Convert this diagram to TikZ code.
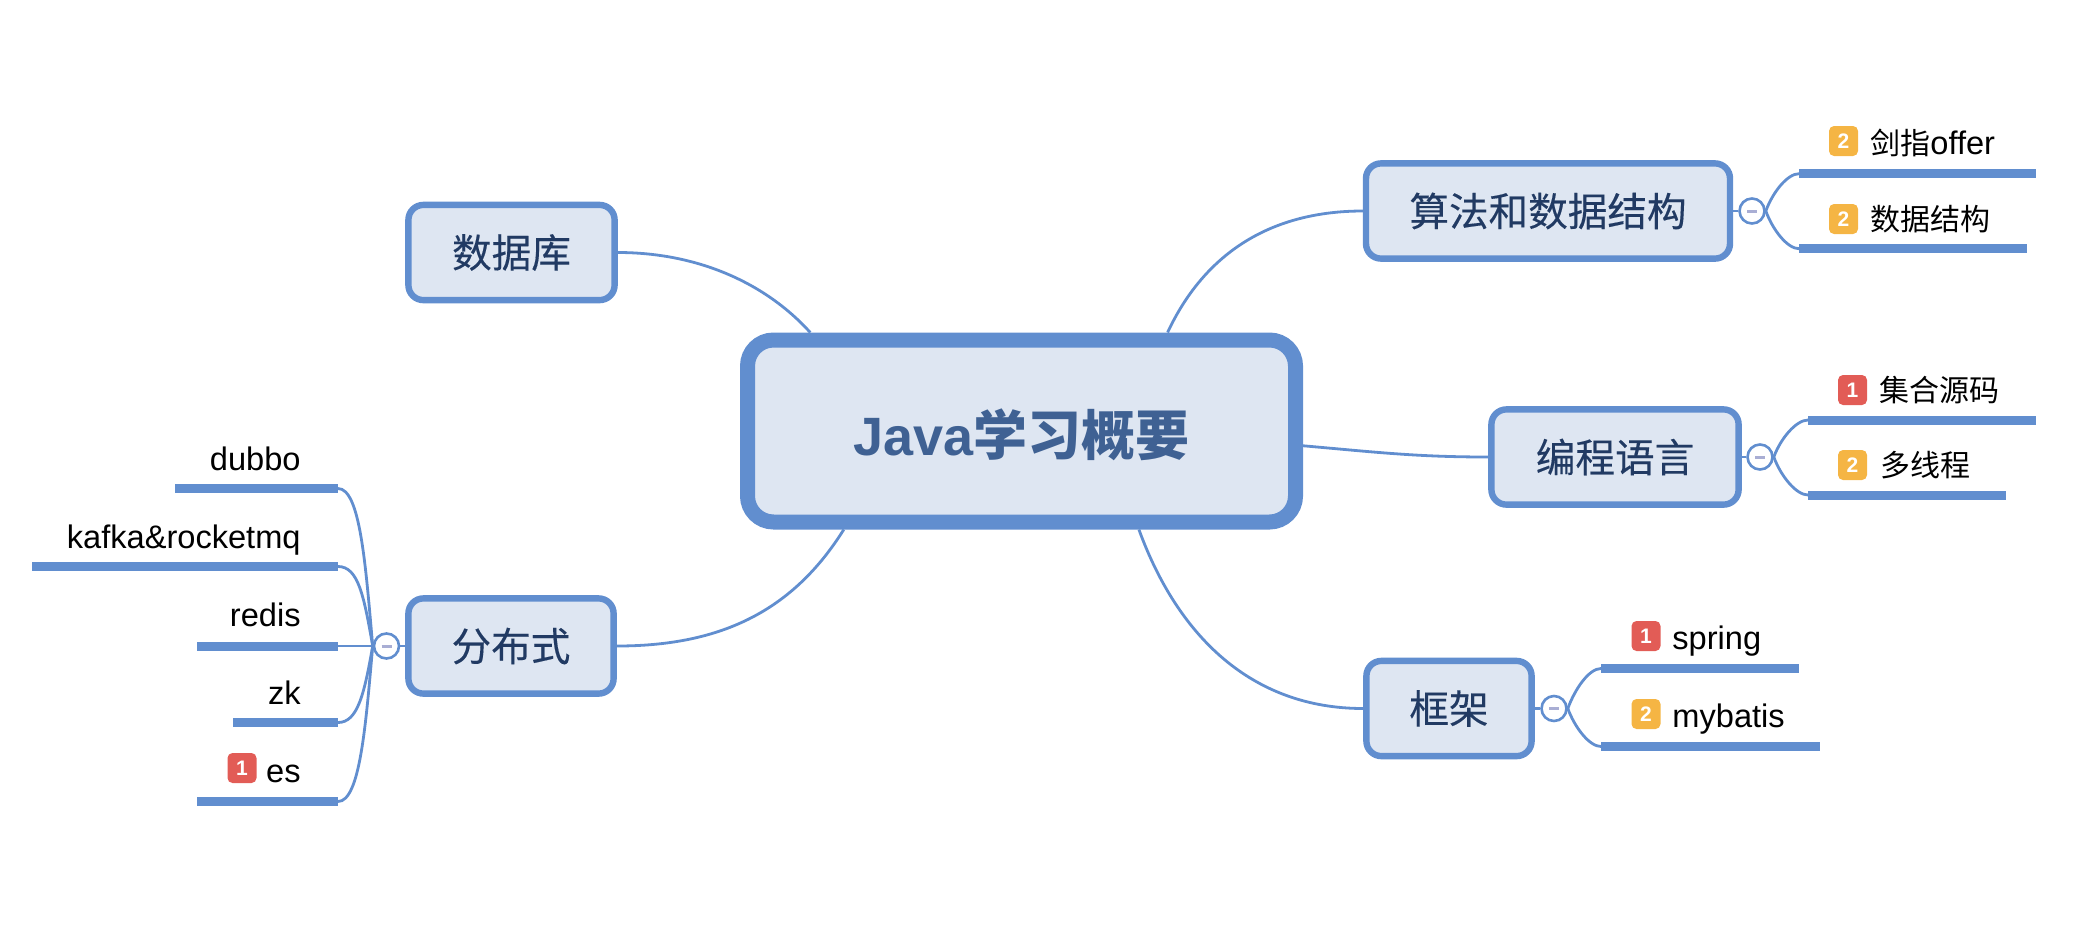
\documentclass[tikz,border=0pt]{standalone}
\usepackage{fontspec}
\setmainfont{Liberation Sans}
\newfontfamily\cjk{Noto Sans CJK SC}
\newfontfamily\cjktopic[FakeBold=0.25]{Noto Sans CJK SC}
\newfontfamily\cjkleaf[Scale=0.92]{Noto Sans CJK SC}
\definecolor{kBlue}{HTML}{618ECF}
\definecolor{kPale}{HTML}{DEE6F2}
\definecolor{kNavy}{HTML}{213A63}
\definecolor{kSteel}{HTML}{3F6193}
\definecolor{kRed}{HTML}{E25C56}
\definecolor{kOrange}{HTML}{F5B544}
\definecolor{kMinus}{HTML}{A9AED4}
\newcommand{\minusbar}{\textcolor{kMinus}{\rule{5pt}{1.5pt}}}
\tikzset{
  rootbox/.style={draw=kBlue,fill=kPale,line width=7.5pt,rounded corners=13pt,
    minimum width=274pt,minimum height=91pt,inner sep=0pt,text=kSteel,
    text height=27.5pt,text depth=3pt,
    font=\fontsize{27}{30}\selectfont\bfseries},
  topicbox/.style={draw=kBlue,fill=kPale,line width=3.2pt,rounded corners=7.5pt,
    minimum height=47.6pt,inner sep=0pt,text=kNavy,
    font=\cjktopic\fontsize{19.8}{24}\selectfont},
  toggle/.style={circle,draw=kBlue,fill=white,line width=1.3pt,
    minimum size=12.5pt,inner sep=0pt},
  barline/.style={rectangle,fill=kBlue,minimum height=4.5pt,inner sep=0pt},
  branch/.style={draw=kBlue,line width=1.4pt},
  leaf/.style={inner sep=0pt,text=black,font=\fontsize{16.3}{20}\selectfont},
  badge/.style={rectangle,rounded corners=2.5pt,minimum width=14.5pt,minimum height=15pt,
    inner sep=0pt,text=white,font=\fontsize{10.5}{12}\selectfont\bfseries},
  fork/.style={out looseness=1,in looseness=0.6},
}
\begin{document}
\begin{tikzpicture}[x=0.5pt,y=-0.5pt]
  \useasboundingbox (0,0) rectangle (2098,928);
  % center
  \node[rootbox] (root) at (1021.5,431) {Java{\cjk 学习概要}};
  % topics
  \node[topicbox,minimum width=182pt] (algo) at (1548,211) {算法和数据结构};
  \node[topicbox,minimum width=123.6pt] (lang) at (1615,457) {编程语言};
  \node[topicbox,minimum width=82.6pt] (frame) at (1449,708.5) {框架};
  \node[topicbox,minimum width=103.1pt] (db) at (511.5,252.5) {数据库};
  \node[topicbox,minimum width=102.6pt] (dist) at (511,646) {分布式};
  % toggles
  \node[toggle] (t1) at (1752,211) {\minusbar};
  \node[toggle] (t2) at (1760,457) {\minusbar};
  \node[toggle] (t3) at (1554,708.5) {\minusbar};
  \node[toggle] (t4) at (386.5,646) {\minusbar};
  % bars
  \node[barline,anchor=west,minimum width=118.5pt] (b1) at (1799,173.7) {};
  \node[barline,anchor=west,minimum width=114pt] (b2) at (1799,248.7) {};
  \node[barline,anchor=west,minimum width=114pt] (b3) at (1808,420) {};
  \node[barline,anchor=west,minimum width=99pt] (b4) at (1808,495) {};
  \node[barline,anchor=west,minimum width=99pt] (b5) at (1601,668.5) {};
  \node[barline,anchor=west,minimum width=109.5pt] (b6) at (1601,746.5) {};
  \node[barline,anchor=east,minimum width=81.5pt] (b7) at (338,488.5) {};
  \node[barline,anchor=east,minimum width=153pt] (b8) at (338,566.5) {};
  \node[barline,anchor=east,minimum width=70.5pt] (b9) at (338,646) {};
  \node[barline,anchor=east,minimum width=52.5pt] (b10) at (338,722.5) {};
  \node[barline,anchor=east,minimum width=70.5pt] (b11) at (338,801.5) {};
  % leaves
  \node[badge,fill=kOrange] (i1) at (1843.5,141) {2};
  \node[leaf,anchor=base west] (l1) at (1870,154) {{\cjkleaf 剑指}offer};
  \node[badge,fill=kOrange] (i2) at (1843.5,219) {2};
  \node[leaf,anchor=base west] (l2) at (1870,230) {\cjkleaf 数据结构};
  \node[badge,fill=kRed] (i3) at (1852.5,390) {1};
  \node[leaf,anchor=base west] (l3) at (1879,401) {\cjkleaf 集合源码};
  \node[badge,fill=kOrange] (i4) at (1852.5,465) {2};
  \node[leaf,anchor=base west] (l4) at (1880,476) {\cjkleaf 多线程};
  \node[badge,fill=kRed] (i5) at (1646,636) {1};
  \node[leaf,anchor=base west] (l5) at (1672,649) {spring};
  \node[badge,fill=kOrange] (i6) at (1646,714) {2};
  \node[leaf,anchor=base west] (l6) at (1672,727) {mybatis};
  \node[leaf,anchor=base east] (l7) at (301,470) {dubbo};
  \node[leaf,anchor=base east] (l8) at (301,548) {kafka\&rocketmq};
  \node[leaf,anchor=base east] (l9) at (301,626) {redis};
  \node[leaf,anchor=base east] (l10) at (301,704) {zk};
  \node[leaf,anchor=base east] (l11) at (301,782) {es};
  \node[badge,fill=kRed] (i7) at (242,768) {1};
  % main branches
  \draw[branch] (root.34) to[out=65,in=180] (algo.west);
  \draw[branch] (root.-3) to[out=-5,in=180] (lang.west);
  \draw[branch] (root.-40) to[out=-70,in=180] (frame.west);
  \draw[branch] (root.155) to[out=132,in=0,out looseness=0.8] (db.east);
  \draw[branch] (root.209) to[out=238,in=0] (dist.east);
  % toggle links
  \draw[branch] (algo.east) -- (t1.west);
  \draw[branch] (lang.east) -- (t2.west);
  \draw[branch] (frame.east) -- (t3.west);
  \draw[branch] (dist.west) -- (t4.east);
  % sub branches
  \draw[branch] (t1.east) to[out=70,in=180,fork] (b1.west);
  \draw[branch] (t1.east) to[out=-70,in=180,fork] (b2.west);
  \draw[branch] (t2.east) to[out=70,in=180,fork] (b3.west);
  \draw[branch] (t2.east) to[out=-70,in=180,fork] (b4.west);
  \draw[branch] (t3.east) to[out=70,in=180,fork] (b5.west);
  \draw[branch] (t3.east) to[out=-70,in=180,fork] (b6.west);
  \draw[branch] (t4.west) to[out=95,in=0,out looseness=1.3,in looseness=0.35] (b7.east);
  \draw[branch] (t4.west) to[out=100,in=0,out looseness=1.5,in looseness=0.6] (b8.east);
  \draw[branch] (t4.west) -- (b9.east);
  \draw[branch] (t4.west) to[out=-100,in=0,out looseness=1.5,in looseness=0.6] (b10.east);
  \draw[branch] (t4.west) to[out=-95,in=0,out looseness=1.3,in looseness=0.35] (b11.east);
\end{tikzpicture}
\end{document}
